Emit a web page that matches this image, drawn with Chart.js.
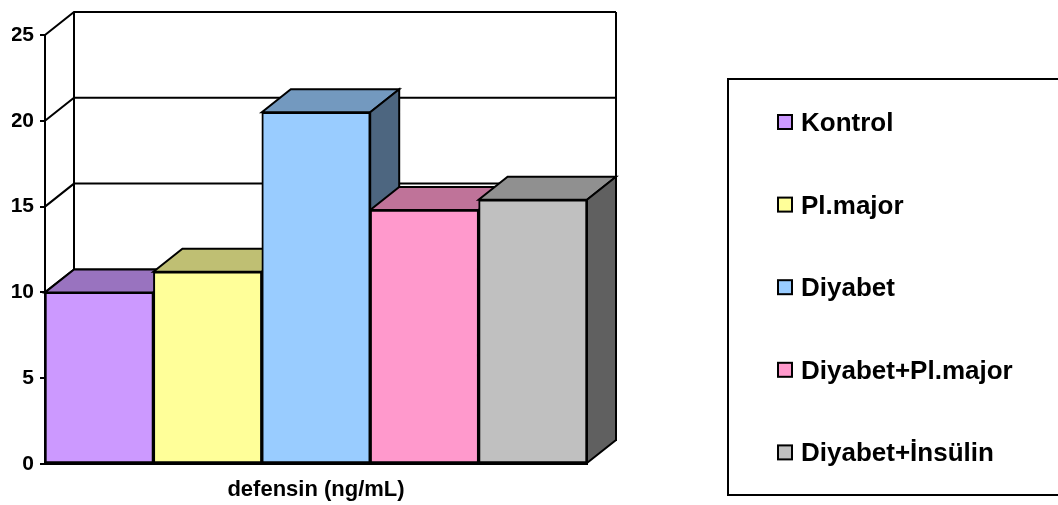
<!DOCTYPE html>
<html lang="tr">
<head>
  <meta charset="UTF-8">
  <title>defensin (ng/mL)</title>
  <style>
    html, body { margin: 0; padding: 0; background: #fff; }
    #wrap { width: 1058px; height: 505px; }
  </style>
  <script src="https://cdn.jsdelivr.net/npm/chart.js"></script>
</head>
<body>
  <div id="wrap"><canvas id="defChart" width="1058" height="505"></canvas></div>
  <script>
    // data
    const categories = ['defensin (ng/mL)'];
    const groups = ['Kontrol', 'Pl.major', 'Diyabet', 'Diyabet+Pl.major', 'Diyabet+İnsülin'];
    const values = [10.0, 11.2, 20.5, 14.8, 15.4];
    const yTicks = [0, 5, 10, 15, 20, 25];

    const colors = ['#CC99FF', '#FFFF99', '#99CCFF', '#FF99CC', '#C0C0C0'];
    const FONT = '"Liberation Sans", Arial, sans-serif';
    const DX = 29, DY = 23; // depth of the 3d look

    function shade(hex, f) {
      const n = parseInt(hex.slice(1), 16);
      const r = Math.round(((n >> 16) & 255) * f);
      const g = Math.round(((n >> 8) & 255) * f);
      const b = Math.round((n & 255) * f);
      return `rgb(${r},${g},${b})`;
    }

    // walls, grid and the top/side faces of each bar
    const threeD = {
      id: 'threeD',
      beforeDatasetsDraw(chart) {
        const { ctx, chartArea: a } = chart;
        const y = chart.scales.y;
        ctx.save();
        ctx.strokeStyle = '#000';
        ctx.lineWidth = 2;
        ctx.beginPath();
        y.ticks.forEach(t => {
          if (t.value === 0) return;
          const py = y.getPixelForValue(t.value);
          ctx.moveTo(a.left, py);
          ctx.lineTo(a.left + DX, py - DY);
          ctx.lineTo(a.right + DX, py - DY);
        });
        ctx.moveTo(a.left + DX, a.top - DY);
        ctx.lineTo(a.left + DX, a.bottom - DY);
        ctx.moveTo(a.right + DX, a.top - DY);
        ctx.lineTo(a.right + DX, a.bottom - DY);
        ctx.stroke();

        chart.data.datasets.forEach((ds, i) => {
          const meta = chart.getDatasetMeta(i);
          meta.data.forEach(bar => {
            const p = bar.getProps(['x', 'y', 'base', 'width'], true);
            const l = p.x - p.width / 2, r = p.x + p.width / 2;
            const top = Math.min(p.y, p.base), bot = Math.max(p.y, p.base);
            ctx.beginPath();
            ctx.moveTo(l, top);
            ctx.lineTo(l + DX, top - DY);
            ctx.lineTo(r + DX, top - DY);
            ctx.lineTo(r, top);
            ctx.closePath();
            ctx.fillStyle = shade(ds.backgroundColor, 0.75);
            ctx.fill();
            ctx.stroke();

            ctx.beginPath();
            ctx.moveTo(r, top);
            ctx.lineTo(r + DX, top - DY);
            ctx.lineTo(r + DX, bot - DY);
            ctx.lineTo(r, bot);
            ctx.closePath();
            ctx.fillStyle = shade(ds.backgroundColor, 0.5);
            ctx.fill();
            ctx.stroke();
          });
        });
        ctx.restore();
      }
    };

    // boxed legend on the right like the original
    const boxLegend = {
      id: 'boxLegend',
      afterDraw(chart) {
        const ctx = chart.ctx;
        ctx.save();
        ctx.strokeStyle = '#000';
        ctx.lineWidth = 2;
        ctx.strokeRect(728, 79, 360, 416);
        ctx.font = 'bold 26px ' + FONT;
        ctx.textBaseline = 'alphabetic';
        chart.data.datasets.forEach((ds, i) => {
          const cy = 122 + i * 82.6;
          ctx.fillStyle = ds.backgroundColor;
          ctx.fillRect(778, cy - 7, 14, 14);
          ctx.lineWidth = 2;
          ctx.strokeRect(778, cy - 7, 14, 14);
          ctx.fillStyle = '#000';
          ctx.fillText(ds.label, 801, cy + 9);
        });
        ctx.restore();
      }
    };

    const ctx = document.getElementById('defChart').getContext('2d');
    new Chart(ctx, {
      type: 'bar',
      data: {
        labels: categories,
        datasets: groups.map((g, i) => ({
          label: g,
          data: [values[i]],
          backgroundColor: colors[i],
          borderColor: '#000',
          borderWidth: 2,
          borderSkipped: false,
          categoryPercentage: 1,
          barPercentage: 1
        }))
      },
      options: {
        responsive: false,
        animation: false,
        layout: { padding: { left: 12, top: 35, right: 471, bottom: 3 } },
        plugins: {
          legend: { display: false },
          tooltip: { enabled: false }
        },
        scales: {
          x: {
            afterFit: s => { s.height = 38; },
            grid: { display: false, drawTicks: false },
            border: { display: true, color: '#000', width: 2 },
            ticks: { color: '#000', padding: 13, font: { family: FONT, size: 22, weight: 'bold' } }
          },
          y: {
            min: yTicks[0],
            max: yTicks[yTicks.length - 1],
            afterBuildTicks: s => { s.ticks = yTicks.map(v => ({ value: v })); },
            afterFit: s => { s.width = 33; },
            grid: { drawOnChartArea: false, drawTicks: true, tickLength: 5, color: '#000', lineWidth: 2 },
            border: { display: true, color: '#000', width: 2 },
            ticks: { color: '#000', padding: 6, font: { family: FONT, size: 21, weight: 'bold' } }
          }
        }
      },
      plugins: [threeD, boxLegend]
    });
  </script>
</body>
</html>
